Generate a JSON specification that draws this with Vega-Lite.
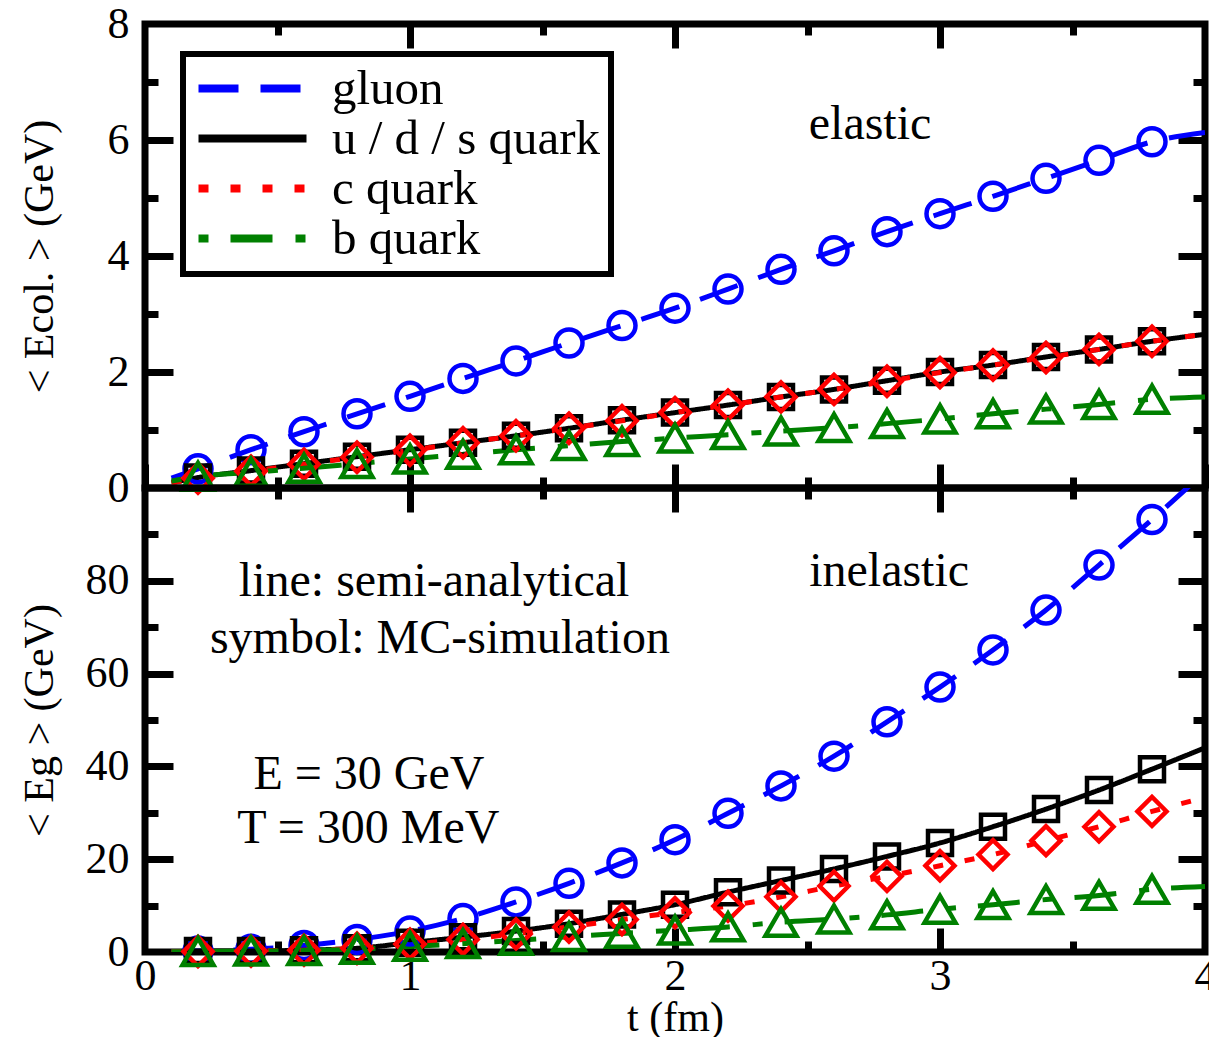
{
  "$schema": "https://vega.github.io/schema/vega-lite/v6.json",
  "padding": {"left": 14, "top": -2, "right": 0, "bottom": 0},
  "background": "white",
  "bounds": "flush",
  "spacing": 0,
  "datasets": {
    "d": [
      {"p":"top","s":"gluon","k":"end","t":0.1,"v":0.17},
      {"p":"top","s":"gluon","k":"mc","t":0.2,"v":0.33},
      {"p":"top","s":"gluon","k":"mc","t":0.4,"v":0.66},
      {"p":"top","s":"gluon","k":"mc","t":0.6,"v":0.97},
      {"p":"top","s":"gluon","k":"mc","t":0.8,"v":1.28},
      {"p":"top","s":"gluon","k":"mc","t":1.0,"v":1.58},
      {"p":"top","s":"gluon","k":"mc","t":1.2,"v":1.89},
      {"p":"top","s":"gluon","k":"mc","t":1.4,"v":2.19},
      {"p":"top","s":"gluon","k":"mc","t":1.6,"v":2.5},
      {"p":"top","s":"gluon","k":"mc","t":1.8,"v":2.8},
      {"p":"top","s":"gluon","k":"mc","t":2.0,"v":3.1},
      {"p":"top","s":"gluon","k":"mc","t":2.2,"v":3.43},
      {"p":"top","s":"gluon","k":"mc","t":2.4,"v":3.77},
      {"p":"top","s":"gluon","k":"mc","t":2.6,"v":4.09},
      {"p":"top","s":"gluon","k":"mc","t":2.8,"v":4.42},
      {"p":"top","s":"gluon","k":"mc","t":3.0,"v":4.73},
      {"p":"top","s":"gluon","k":"mc","t":3.2,"v":5.03},
      {"p":"top","s":"gluon","k":"mc","t":3.4,"v":5.34},
      {"p":"top","s":"gluon","k":"mc","t":3.6,"v":5.65},
      {"p":"top","s":"gluon","k":"mc","t":3.8,"v":5.97},
      {"p":"top","s":"gluon","k":"end","t":4.0,"v":6.13},
      {"p":"top","s":"u / d / s quark","k":"end","t":0.1,"v":0.09},
      {"p":"top","s":"u / d / s quark","k":"mc","t":0.2,"v":0.18},
      {"p":"top","s":"u / d / s quark","k":"mc","t":0.4,"v":0.3},
      {"p":"top","s":"u / d / s quark","k":"mc","t":0.6,"v":0.42},
      {"p":"top","s":"u / d / s quark","k":"mc","t":0.8,"v":0.54},
      {"p":"top","s":"u / d / s quark","k":"mc","t":1.0,"v":0.66},
      {"p":"top","s":"u / d / s quark","k":"mc","t":1.2,"v":0.78},
      {"p":"top","s":"u / d / s quark","k":"mc","t":1.4,"v":0.9},
      {"p":"top","s":"u / d / s quark","k":"mc","t":1.6,"v":1.03},
      {"p":"top","s":"u / d / s quark","k":"mc","t":1.8,"v":1.17},
      {"p":"top","s":"u / d / s quark","k":"mc","t":2.0,"v":1.3},
      {"p":"top","s":"u / d / s quark","k":"mc","t":2.2,"v":1.43},
      {"p":"top","s":"u / d / s quark","k":"mc","t":2.4,"v":1.57},
      {"p":"top","s":"u / d / s quark","k":"mc","t":2.6,"v":1.7},
      {"p":"top","s":"u / d / s quark","k":"mc","t":2.8,"v":1.85},
      {"p":"top","s":"u / d / s quark","k":"mc","t":3.0,"v":2.0},
      {"p":"top","s":"u / d / s quark","k":"mc","t":3.2,"v":2.12},
      {"p":"top","s":"u / d / s quark","k":"mc","t":3.4,"v":2.26},
      {"p":"top","s":"u / d / s quark","k":"mc","t":3.6,"v":2.39},
      {"p":"top","s":"u / d / s quark","k":"mc","t":3.8,"v":2.53},
      {"p":"top","s":"u / d / s quark","k":"end","t":4.0,"v":2.65},
      {"p":"top","s":"c quark","k":"end","t":0.1,"v":0.09},
      {"p":"top","s":"c quark","k":"mc","t":0.2,"v":0.17},
      {"p":"top","s":"c quark","k":"mc","t":0.4,"v":0.29},
      {"p":"top","s":"c quark","k":"mc","t":0.6,"v":0.41},
      {"p":"top","s":"c quark","k":"mc","t":0.8,"v":0.53},
      {"p":"top","s":"c quark","k":"mc","t":1.0,"v":0.65},
      {"p":"top","s":"c quark","k":"mc","t":1.2,"v":0.78},
      {"p":"top","s":"c quark","k":"mc","t":1.4,"v":0.9},
      {"p":"top","s":"c quark","k":"mc","t":1.6,"v":1.03},
      {"p":"top","s":"c quark","k":"mc","t":1.8,"v":1.16},
      {"p":"top","s":"c quark","k":"mc","t":2.0,"v":1.3},
      {"p":"top","s":"c quark","k":"mc","t":2.2,"v":1.43},
      {"p":"top","s":"c quark","k":"mc","t":2.4,"v":1.57},
      {"p":"top","s":"c quark","k":"mc","t":2.6,"v":1.7},
      {"p":"top","s":"c quark","k":"mc","t":2.8,"v":1.84},
      {"p":"top","s":"c quark","k":"mc","t":3.0,"v":1.99},
      {"p":"top","s":"c quark","k":"mc","t":3.2,"v":2.12},
      {"p":"top","s":"c quark","k":"mc","t":3.4,"v":2.25},
      {"p":"top","s":"c quark","k":"mc","t":3.6,"v":2.39},
      {"p":"top","s":"c quark","k":"mc","t":3.8,"v":2.53},
      {"p":"top","s":"c quark","k":"end","t":4.0,"v":2.65},
      {"p":"top","s":"b quark","k":"end","t":0.1,"v":0.12},
      {"p":"top","s":"b quark","k":"mc","t":0.2,"v":0.2},
      {"p":"top","s":"b quark","k":"mc","t":0.4,"v":0.27},
      {"p":"top","s":"b quark","k":"mc","t":0.6,"v":0.34},
      {"p":"top","s":"b quark","k":"mc","t":0.8,"v":0.42},
      {"p":"top","s":"b quark","k":"mc","t":1.0,"v":0.5},
      {"p":"top","s":"b quark","k":"mc","t":1.2,"v":0.58},
      {"p":"top","s":"b quark","k":"mc","t":1.4,"v":0.66},
      {"p":"top","s":"b quark","k":"mc","t":1.6,"v":0.73},
      {"p":"top","s":"b quark","k":"mc","t":1.8,"v":0.8},
      {"p":"top","s":"b quark","k":"mc","t":2.0,"v":0.86},
      {"p":"top","s":"b quark","k":"mc","t":2.2,"v":0.92},
      {"p":"top","s":"b quark","k":"mc","t":2.4,"v":0.98},
      {"p":"top","s":"b quark","k":"mc","t":2.6,"v":1.04},
      {"p":"top","s":"b quark","k":"mc","t":2.8,"v":1.11},
      {"p":"top","s":"b quark","k":"mc","t":3.0,"v":1.19},
      {"p":"top","s":"b quark","k":"mc","t":3.2,"v":1.28},
      {"p":"top","s":"b quark","k":"mc","t":3.4,"v":1.36},
      {"p":"top","s":"b quark","k":"mc","t":3.6,"v":1.44},
      {"p":"top","s":"b quark","k":"mc","t":3.8,"v":1.53},
      {"p":"top","s":"b quark","k":"end","t":4.0,"v":1.57},
      {"p":"bot","s":"gluon","k":"end","t":0.1,"v":0.05},
      {"p":"bot","s":"gluon","k":"mc","t":0.2,"v":0.2},
      {"p":"bot","s":"gluon","k":"mc","t":0.4,"v":0.6},
      {"p":"bot","s":"gluon","k":"mc","t":0.6,"v":1.4},
      {"p":"bot","s":"gluon","k":"mc","t":0.8,"v":2.7},
      {"p":"bot","s":"gluon","k":"mc","t":1.0,"v":4.5},
      {"p":"bot","s":"gluon","k":"mc","t":1.2,"v":7.2},
      {"p":"bot","s":"gluon","k":"mc","t":1.4,"v":10.8},
      {"p":"bot","s":"gluon","k":"mc","t":1.6,"v":14.8},
      {"p":"bot","s":"gluon","k":"mc","t":1.8,"v":19.2},
      {"p":"bot","s":"gluon","k":"mc","t":2.0,"v":24.2},
      {"p":"bot","s":"gluon","k":"mc","t":2.2,"v":29.9},
      {"p":"bot","s":"gluon","k":"mc","t":2.4,"v":35.8},
      {"p":"bot","s":"gluon","k":"mc","t":2.6,"v":42.2},
      {"p":"bot","s":"gluon","k":"mc","t":2.8,"v":49.6},
      {"p":"bot","s":"gluon","k":"mc","t":3.0,"v":57.1},
      {"p":"bot","s":"gluon","k":"mc","t":3.2,"v":65.1},
      {"p":"bot","s":"gluon","k":"mc","t":3.4,"v":73.7},
      {"p":"bot","s":"gluon","k":"mc","t":3.6,"v":83.4},
      {"p":"bot","s":"gluon","k":"mc","t":3.8,"v":93.2},
      {"p":"bot","s":"gluon","k":"end","t":4.0,"v":103.5},
      {"p":"bot","s":"u / d / s quark","k":"end","t":0.1,"v":0.05},
      {"p":"bot","s":"u / d / s quark","k":"mc","t":0.2,"v":0.2},
      {"p":"bot","s":"u / d / s quark","k":"mc","t":0.4,"v":0.2},
      {"p":"bot","s":"u / d / s quark","k":"mc","t":0.6,"v":0.4},
      {"p":"bot","s":"u / d / s quark","k":"mc","t":0.8,"v":0.8},
      {"p":"bot","s":"u / d / s quark","k":"mc","t":1.0,"v":2.0},
      {"p":"bot","s":"u / d / s quark","k":"mc","t":1.2,"v":3.2},
      {"p":"bot","s":"u / d / s quark","k":"mc","t":1.4,"v":4.5},
      {"p":"bot","s":"u / d / s quark","k":"mc","t":1.6,"v":6.1},
      {"p":"bot","s":"u / d / s quark","k":"mc","t":1.8,"v":8.1},
      {"p":"bot","s":"u / d / s quark","k":"mc","t":2.0,"v":10.2},
      {"p":"bot","s":"u / d / s quark","k":"mc","t":2.2,"v":12.9},
      {"p":"bot","s":"u / d / s quark","k":"mc","t":2.4,"v":15.4},
      {"p":"bot","s":"u / d / s quark","k":"mc","t":2.6,"v":17.9},
      {"p":"bot","s":"u / d / s quark","k":"mc","t":2.8,"v":20.6},
      {"p":"bot","s":"u / d / s quark","k":"mc","t":3.0,"v":23.5},
      {"p":"bot","s":"u / d / s quark","k":"mc","t":3.2,"v":27.0},
      {"p":"bot","s":"u / d / s quark","k":"mc","t":3.4,"v":30.8},
      {"p":"bot","s":"u / d / s quark","k":"mc","t":3.6,"v":34.9},
      {"p":"bot","s":"u / d / s quark","k":"mc","t":3.8,"v":39.4},
      {"p":"bot","s":"u / d / s quark","k":"end","t":4.0,"v":44.0},
      {"p":"bot","s":"c quark","k":"end","t":0.1,"v":0.05},
      {"p":"bot","s":"c quark","k":"mc","t":0.2,"v":0.1},
      {"p":"bot","s":"c quark","k":"mc","t":0.4,"v":0.2},
      {"p":"bot","s":"c quark","k":"mc","t":0.6,"v":0.4},
      {"p":"bot","s":"c quark","k":"mc","t":0.8,"v":0.8},
      {"p":"bot","s":"c quark","k":"mc","t":1.0,"v":1.7},
      {"p":"bot","s":"c quark","k":"mc","t":1.2,"v":2.7},
      {"p":"bot","s":"c quark","k":"mc","t":1.4,"v":3.9},
      {"p":"bot","s":"c quark","k":"mc","t":1.6,"v":5.4},
      {"p":"bot","s":"c quark","k":"mc","t":1.8,"v":7.0},
      {"p":"bot","s":"c quark","k":"mc","t":2.0,"v":8.5},
      {"p":"bot","s":"c quark","k":"mc","t":2.2,"v":9.9},
      {"p":"bot","s":"c quark","k":"mc","t":2.4,"v":11.9},
      {"p":"bot","s":"c quark","k":"mc","t":2.6,"v":14.2},
      {"p":"bot","s":"c quark","k":"mc","t":2.8,"v":16.3},
      {"p":"bot","s":"c quark","k":"mc","t":3.0,"v":18.6},
      {"p":"bot","s":"c quark","k":"mc","t":3.2,"v":21.0},
      {"p":"bot","s":"c quark","k":"mc","t":3.4,"v":24.0},
      {"p":"bot","s":"c quark","k":"mc","t":3.6,"v":27.0},
      {"p":"bot","s":"c quark","k":"mc","t":3.8,"v":30.3},
      {"p":"bot","s":"c quark","k":"end","t":4.0,"v":33.3},
      {"p":"bot","s":"b quark","k":"end","t":0.1,"v":0.03},
      {"p":"bot","s":"b quark","k":"mc","t":0.2,"v":0.1},
      {"p":"bot","s":"b quark","k":"mc","t":0.4,"v":0.2},
      {"p":"bot","s":"b quark","k":"mc","t":0.6,"v":0.3},
      {"p":"bot","s":"b quark","k":"mc","t":0.8,"v":0.6},
      {"p":"bot","s":"b quark","k":"mc","t":1.0,"v":1.2},
      {"p":"bot","s":"b quark","k":"mc","t":1.2,"v":1.8},
      {"p":"bot","s":"b quark","k":"mc","t":1.4,"v":2.5},
      {"p":"bot","s":"b quark","k":"mc","t":1.6,"v":3.3},
      {"p":"bot","s":"b quark","k":"mc","t":1.8,"v":4.0},
      {"p":"bot","s":"b quark","k":"mc","t":2.0,"v":4.7},
      {"p":"bot","s":"b quark","k":"mc","t":2.2,"v":5.4},
      {"p":"bot","s":"b quark","k":"mc","t":2.4,"v":6.4},
      {"p":"bot","s":"b quark","k":"mc","t":2.6,"v":7.1},
      {"p":"bot","s":"b quark","k":"mc","t":2.8,"v":8.0},
      {"p":"bot","s":"b quark","k":"mc","t":3.0,"v":9.2},
      {"p":"bot","s":"b quark","k":"mc","t":3.2,"v":10.2},
      {"p":"bot","s":"b quark","k":"mc","t":3.4,"v":11.3},
      {"p":"bot","s":"b quark","k":"mc","t":3.6,"v":12.2},
      {"p":"bot","s":"b quark","k":"mc","t":3.8,"v":13.5},
      {"p":"bot","s":"b quark","k":"end","t":4.0,"v":14.1}
    ],
    "notes": [
      {"p":"top","t":2.736,"v":6.02,"label":"elastic"},
      {"p":"bot","t":2.808,"v":78.9,"label":"inelastic"},
      {"p":"bot","t":1.091,"v":76.7,"label":"line: semi-analytical"},
      {"p":"bot","t":1.113,"v":64.4,"label":"symbol: MC-simulation"},
      {"p":"bot","t":0.845,"v":35.1,"label":"E = 30 GeV"},
      {"p":"bot","t":0.843,"v":23.5,"label":"T = 300 MeV"}
    ]
  },
  "vconcat": [
    {
      "width": 1060,
      "height": 464,
      "layer": [
        {
          "data": {"name": "d"},
          "transform": [{"filter": "datum.p == 'top'"}],
          "mark": {"type": "line", "strokeWidth": 5, "clip": true, "interpolate": "monotone"},
          "encoding": {
            "x": {"field": "t", "type": "quantitative", "scale": {"domain": [0, 4], "nice": false, "zero": false},
                  "axis": {"orient": "bottom", "values": [0, 1, 2, 3, 4], "tickSize": -24, "labels": false, "title": null}},
            "y": {"field": "v", "type": "quantitative", "scale": {"domain": [0, 8], "nice": false},
                  "axis": {"orient": "left", "values": [0, 2, 4, 6, 8], "ticks": false, "labelPadding": 16, "title": "< Ecol. > (GeV)", "titleX": -84, "titleAngle": 270, "titleBaseline": "bottom"}},
            "color": {"field": "s", "type": "nominal",
                      "scale": {"domain": ["gluon", "u / d / s quark", "c quark", "b quark"], "range": ["#0000ff", "#000000", "#ff0000", "#008000"]},
                      "legend": {"orient": "none", "legendX": 38, "legendY": 30, "title": null, "symbolType": "M-4,0H4", "symbolSize": 729, "symbolOffset": 35, "symbolStrokeWidth": 8, "labelFont": "Liberation Serif", "labelFontSize": 49, "labelColor": "black", "labelOffset": 55, "rowPadding": 0, "padding": 10, "strokeColor": "black", "fillColor": "white", "labelLimit": 0}},
            "strokeDash": {"field": "s", "type": "nominal",
                      "scale": {"domain": ["gluon", "u / d / s quark", "c quark", "b quark"], "range": [[40, 22], [1, 0], [10, 22], [10, 22, 42, 23]]},
                      "legend": {"orient": "none", "legendX": 38, "legendY": 30, "title": null, "symbolType": "M-4,0H4", "symbolSize": 729, "symbolOffset": 35, "symbolStrokeWidth": 8, "labelFont": "Liberation Serif", "labelFontSize": 49, "labelColor": "black", "labelOffset": 55, "rowPadding": 0, "padding": 10, "strokeColor": "black", "fillColor": "white", "labelLimit": 0}}
          }
        },
        {
          "data": {"name": "d"},
          "transform": [{"filter": "datum.p == 'top' && datum.k == 'mc' && datum.s == 'gluon'"}],
          "mark": {"type": "point", "shape": "circle", "size": 729, "filled": false, "strokeWidth": 4.5, "opacity": 1, "color": "#0000ff"},
          "encoding": {
            "x": {"field": "t", "type": "quantitative", "scale": {"domain": [0, 4], "nice": false, "zero": false},
                  "axis": {"orient": "bottom", "values": [0.5, 1.5, 2.5, 3.5], "tickSize": -11, "labels": false, "title": null}},
            "y": {"field": "v", "type": "quantitative", "scale": {"domain": [0, 8], "nice": false},
                  "axis": {"orient": "left", "values": [2, 4, 6], "tickSize": -28, "labels": false, "title": null}}
          }
        },
        {
          "data": {"name": "d"},
          "transform": [{"filter": "datum.p == 'top' && datum.k == 'mc' && datum.s == 'u / d / s quark'"}],
          "mark": {"type": "point", "shape": "square", "size": 576, "filled": false, "strokeWidth": 4.5, "opacity": 1, "color": "#000000"},
          "encoding": {
            "x": {"field": "t", "type": "quantitative", "scale": {"domain": [0, 4], "nice": false, "zero": false}, "axis": null},
            "y": {"field": "v", "type": "quantitative", "scale": {"domain": [0, 8], "nice": false}, "axis": null}
          }
        },
        {
          "data": {"name": "d"},
          "transform": [{"filter": "datum.p == 'top' && datum.k == 'mc' && datum.s == 'c quark'"}],
          "mark": {"type": "point", "shape": "diamond", "size": 841, "filled": false, "strokeWidth": 4.5, "opacity": 1, "color": "#ff0000"},
          "encoding": {
            "x": {"field": "t", "type": "quantitative", "scale": {"domain": [0, 4], "nice": false, "zero": false}, "axis": null},
            "y": {"field": "v", "type": "quantitative", "scale": {"domain": [0, 8], "nice": false}, "axis": null}
          }
        },
        {
          "data": {"name": "d"},
          "transform": [{"filter": "datum.p == 'top' && datum.k == 'mc' && datum.s == 'b quark'"}],
          "mark": {"type": "point", "shape": "triangle-up", "size": 961, "filled": false, "strokeWidth": 4.5, "opacity": 1, "color": "#008000"},
          "encoding": {
            "x": {"field": "t", "type": "quantitative", "scale": {"domain": [0, 4], "nice": false, "zero": false}, "axis": null},
            "y": {"field": "v", "type": "quantitative", "scale": {"domain": [0, 8], "nice": false}, "axis": null}
          }
        },
        {
          "data": {"name": "notes"},
          "transform": [{"filter": "datum.p == 'top'"}],
          "mark": {"type": "text", "font": "Liberation Serif", "fontSize": 48, "baseline": "alphabetic", "align": "center", "color": "black"},
          "encoding": {
            "x": {"field": "t", "type": "quantitative", "scale": {"domain": [0, 4], "nice": false, "zero": false},
                  "axis": {"orient": "top", "values": [1, 2, 3], "tickSize": -24, "labels": false, "title": null}},
            "y": {"field": "v", "type": "quantitative", "scale": {"domain": [0, 8], "nice": false},
                  "axis": {"orient": "left", "values": [1, 3, 5, 7], "tickSize": -13, "labels": false, "title": null}},
            "text": {"field": "label"}
          }
        },
        {
          "data": {"name": "d"},
          "transform": [{"filter": "datum.p == 'top'"}],
          "mark": {"type": "point", "opacity": 0},
          "encoding": {
            "x": {"field": "t", "type": "quantitative", "scale": {"domain": [0, 4], "nice": false, "zero": false},
                  "axis": {"orient": "top", "values": [0.5, 1.5, 2.5, 3.5], "tickSize": -11, "labels": false, "title": null}},
            "y": {"field": "v", "type": "quantitative", "scale": {"domain": [0, 8], "nice": false},
                  "axis": {"orient": "right", "values": [2, 4, 6], "tickSize": -27, "labels": false, "title": null}}
          }
        },
        {
          "data": {"name": "d"},
          "transform": [{"filter": "datum.p == 'top'"}],
          "mark": {"type": "point", "opacity": 0},
          "encoding": {
            "x": {"field": "t", "type": "quantitative", "scale": {"domain": [0, 4], "nice": false, "zero": false}, "axis": null},
            "y": {"field": "v", "type": "quantitative", "scale": {"domain": [0, 8], "nice": false},
                  "axis": {"orient": "right", "values": [1, 3, 5, 7], "tickSize": -12, "labels": false, "title": null}}
          }
        }
      ],
      "resolve": {"axis": {"x": "independent", "y": "independent"}}
    },
    {
      "width": 1060,
      "height": 464,
      "layer": [
        {
          "data": {"name": "d"},
          "transform": [{"filter": "datum.p == 'bot'"}],
          "mark": {"type": "line", "strokeWidth": 5, "clip": true, "interpolate": "monotone"},
          "encoding": {
            "x": {"field": "t", "type": "quantitative", "scale": {"domain": [0, 4], "nice": false, "zero": false},
                  "axis": {"orient": "bottom", "values": [0, 1, 2, 3, 4], "ticks": false, "labelPadding": 2, "title": "t (fm)", "titleY": 78, "titleBaseline": "alphabetic"}},
            "y": {"field": "v", "type": "quantitative", "scale": {"domain": [0, 100], "nice": false},
                  "axis": {"orient": "left", "values": [0, 20, 40, 60, 80], "ticks": false, "labelPadding": 16, "title": "< Eg > (GeV)", "titleX": -84, "titleAngle": 270, "titleBaseline": "bottom"}},
            "color": {"field": "s", "type": "nominal",
                      "scale": {"domain": ["gluon", "u / d / s quark", "c quark", "b quark"], "range": ["#0000ff", "#000000", "#ff0000", "#008000"]}, "legend": null},
            "strokeDash": {"field": "s", "type": "nominal",
                      "scale": {"domain": ["gluon", "u / d / s quark", "c quark", "b quark"], "range": [[40, 22], [1, 0], [10, 22], [10, 22, 42, 23]]}, "legend": null}
          }
        },
        {
          "data": {"name": "d"},
          "transform": [{"filter": "datum.p == 'bot' && datum.k == 'mc' && datum.s == 'gluon'"}],
          "mark": {"type": "point", "shape": "circle", "size": 729, "filled": false, "strokeWidth": 4.5, "opacity": 1, "color": "#0000ff"},
          "encoding": {
            "x": {"field": "t", "type": "quantitative", "scale": {"domain": [0, 4], "nice": false, "zero": false},
                  "axis": {"orient": "bottom", "values": [0.5, 1.5, 2.5, 3.5], "tickSize": -11, "labels": false, "title": null}},
            "y": {"field": "v", "type": "quantitative", "scale": {"domain": [0, 100], "nice": false},
                  "axis": {"orient": "left", "values": [20, 40, 60, 80], "tickSize": -28, "labels": false, "title": null}}
          }
        },
        {
          "data": {"name": "d"},
          "transform": [{"filter": "datum.p == 'bot' && datum.k == 'mc' && datum.s == 'u / d / s quark'"}],
          "mark": {"type": "point", "shape": "square", "size": 576, "filled": false, "strokeWidth": 4.5, "opacity": 1, "color": "#000000"},
          "encoding": {
            "x": {"field": "t", "type": "quantitative", "scale": {"domain": [0, 4], "nice": false, "zero": false}, "axis": null},
            "y": {"field": "v", "type": "quantitative", "scale": {"domain": [0, 100], "nice": false}, "axis": null}
          }
        },
        {
          "data": {"name": "d"},
          "transform": [{"filter": "datum.p == 'bot' && datum.k == 'mc' && datum.s == 'c quark'"}],
          "mark": {"type": "point", "shape": "diamond", "size": 841, "filled": false, "strokeWidth": 4.5, "opacity": 1, "color": "#ff0000"},
          "encoding": {
            "x": {"field": "t", "type": "quantitative", "scale": {"domain": [0, 4], "nice": false, "zero": false}, "axis": null},
            "y": {"field": "v", "type": "quantitative", "scale": {"domain": [0, 100], "nice": false}, "axis": null}
          }
        },
        {
          "data": {"name": "d"},
          "transform": [{"filter": "datum.p == 'bot' && datum.k == 'mc' && datum.s == 'b quark'"}],
          "mark": {"type": "point", "shape": "triangle-up", "size": 961, "filled": false, "strokeWidth": 4.5, "opacity": 1, "color": "#008000"},
          "encoding": {
            "x": {"field": "t", "type": "quantitative", "scale": {"domain": [0, 4], "nice": false, "zero": false}, "axis": null},
            "y": {"field": "v", "type": "quantitative", "scale": {"domain": [0, 100], "nice": false}, "axis": null}
          }
        },
        {
          "data": {"name": "notes"},
          "transform": [{"filter": "datum.p == 'bot'"}],
          "mark": {"type": "text", "font": "Liberation Serif", "fontSize": 48, "baseline": "alphabetic", "align": "center", "color": "black"},
          "encoding": {
            "x": {"field": "t", "type": "quantitative", "scale": {"domain": [0, 4], "nice": false, "zero": false},
                  "axis": {"orient": "top", "values": [1, 2, 3], "tickSize": -24, "labels": false, "title": null}},
            "y": {"field": "v", "type": "quantitative", "scale": {"domain": [0, 100], "nice": false},
                  "axis": {"orient": "left", "values": [10, 30, 50, 70, 90], "tickSize": -13, "labels": false, "title": null}},
            "text": {"field": "label"}
          }
        },
        {
          "data": {"name": "d"},
          "transform": [{"filter": "datum.p == 'bot'"}],
          "mark": {"type": "point", "opacity": 0},
          "encoding": {
            "x": {"field": "t", "type": "quantitative", "scale": {"domain": [0, 4], "nice": false, "zero": false},
                  "axis": {"orient": "top", "values": [0.5, 1.5, 2.5, 3.5], "tickSize": -11, "labels": false, "title": null}},
            "y": {"field": "v", "type": "quantitative", "scale": {"domain": [0, 100], "nice": false},
                  "axis": {"orient": "right", "values": [20, 40, 60, 80], "tickSize": -27, "labels": false, "title": null}}
          }
        },
        {
          "data": {"name": "d"},
          "transform": [{"filter": "datum.p == 'bot'"}],
          "mark": {"type": "point", "opacity": 0},
          "encoding": {
            "x": {"field": "t", "type": "quantitative", "scale": {"domain": [0, 4], "nice": false, "zero": false},
                  "axis": {"orient": "bottom", "values": [1, 2, 3], "tickSize": -24, "labels": false, "title": null}},
            "y": {"field": "v", "type": "quantitative", "scale": {"domain": [0, 100], "nice": false},
                  "axis": {"orient": "right", "values": [10, 30, 50, 70, 90], "tickSize": -12, "labels": false, "title": null}}
          }
        }
      ],
      "resolve": {"axis": {"x": "independent", "y": "independent"}}
    }
  ],
  "resolve": {
    "scale": {"x": "independent", "y": "independent", "color": "independent", "strokeDash": "independent"}
  },
  "config": {
    "view": {"stroke": "black", "strokeWidth": 7, "fill": null},
    "axis": {"domain": false, "grid": false, "tickColor": "black", "tickWidth": 7, "labelFont": "Liberation Serif", "labelFontSize": 44, "labelColor": "black", "titleFont": "Liberation Serif", "titleFontSize": 42, "titleColor": "black", "titleFontWeight": "normal", "labelFlush": false, "labelOverlap": false},
    "legend": {"strokeWidth": 6},
    "text": {"font": "Liberation Serif"}
  }
}
